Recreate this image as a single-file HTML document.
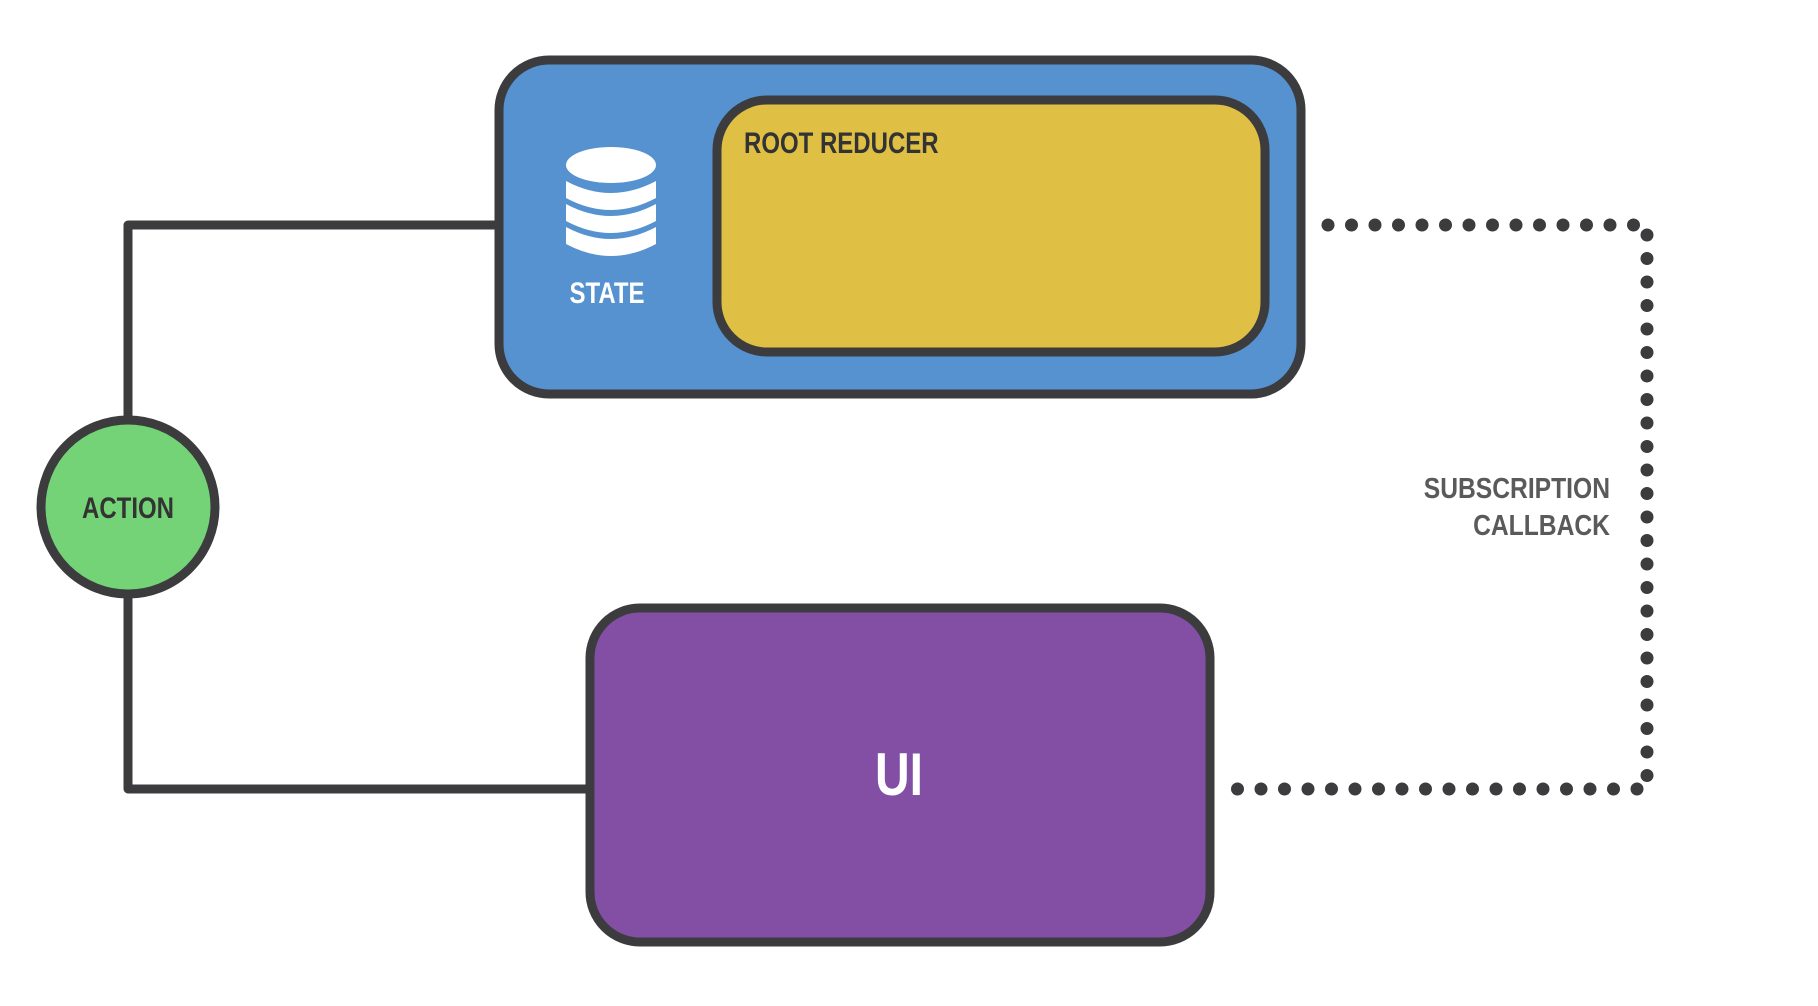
<!DOCTYPE html>
<html><head><meta charset="utf-8"><style>
html,body{margin:0;padding:0;background:#fff;}
svg{display:block;}
text{font-family:"Liberation Sans",sans-serif;font-weight:bold;}
</style></head><body>
<svg width="1818" height="1006" viewBox="0 0 1818 1006" xmlns="http://www.w3.org/2000/svg">
<g stroke="#3c3c3e" stroke-width="9" fill="none" stroke-linejoin="round">
  <polyline points="498,225 128,225 128,420"/>
  <polyline points="128,595 128,789 590,789"/>
</g>
<rect x="499" y="60" width="802" height="334" rx="50" fill="#5592cf" stroke="#3c3c3e" stroke-width="9"/>
<rect x="717" y="100" width="548" height="252" rx="50" fill="#e0c044" stroke="#3c3c3e" stroke-width="9"/>
<g fill="#fff">
  <ellipse cx="611" cy="165" rx="45" ry="18"/>
  <path d="M566,181 q45,24 90,0 v17 q-45,24 -90,0z"/>
  <path d="M566,204 q45,24 90,0 v17 q-45,24 -90,0z"/>
  <path d="M566,227 q45,24 90,0 v17 q-45,24 -90,0z"/>
</g>
<text x="607" y="303" font-size="30" fill="#fff" text-anchor="middle" transform="translate(607 0) scale(0.8 1) translate(-607 0)">STATE</text>
<text x="744" y="153" font-size="30" fill="#333" transform="translate(744 0) scale(0.8 1) translate(-744 0)">ROOT REDUCER</text>
<circle cx="128" cy="507" r="87" fill="#74d377" stroke="#3c3c3e" stroke-width="9"/>
<text x="128" y="518" font-size="30" fill="#333" text-anchor="middle" transform="translate(128 0) scale(0.8 1) translate(-128 0)">ACTION</text>
<rect x="590" y="608" width="620" height="334" rx="50" fill="#834fa5" stroke="#3c3c3e" stroke-width="9"/>
<text x="899" y="795" font-size="60" fill="#fff" text-anchor="middle" transform="translate(899 0) scale(0.8 1) translate(-899 0)">UI</text>
<polyline points="1328,225 1647,225 1647,789 1224,789" fill="none" stroke="#3c3c3e" stroke-width="13" stroke-linecap="round" stroke-dasharray="0 23.5" stroke-linejoin="round"/>
<text x="1610" y="498" font-size="29" fill="#5a5a5a" text-anchor="end" transform="translate(1610 0) scale(0.85 1) translate(-1610 0)">SUBSCRIPTION</text>
<text x="1610" y="535" font-size="29" fill="#5a5a5a" text-anchor="end" transform="translate(1610 0) scale(0.85 1) translate(-1610 0)">CALLBACK</text>
</svg>
</body></html>
